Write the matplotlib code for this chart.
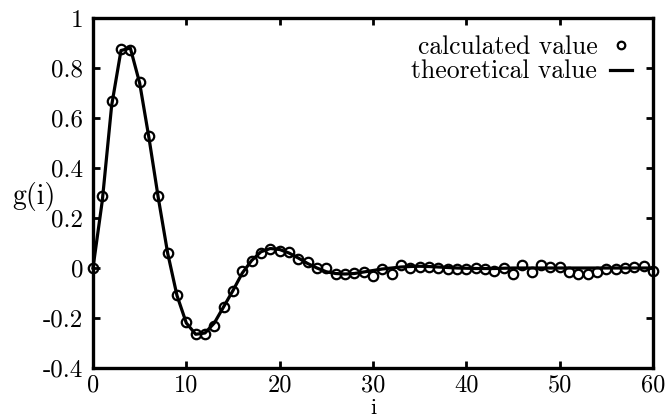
import matplotlib
matplotlib.use("Agg")
import matplotlib.pyplot as plt
import numpy as np

plt.rcParams['font.family'] = ['cmr10', 'DejaVu Serif']
plt.rcParams['axes.unicode_minus'] = False
plt.rcParams['axes.formatter.use_mathtext'] = False

i_vals = list(range(0, 61))
calculated = [0.0, 0.29, 0.67, 0.875, 0.872, 0.745, 0.527, 0.289, 0.062, -0.106,
              -0.216, -0.263, -0.263, -0.23, -0.157, -0.093, -0.011, 0.029, 0.06, 0.078,
              0.07, 0.064, 0.036, 0.023, 0.0, 0.0, -0.024, -0.024, -0.02, -0.017,
              -0.03, -0.004, -0.024, 0.012, 0.0, 0.003, 0.003, 0.0, -0.004, -0.004,
              -0.004, 0.0, -0.005, -0.01, 0.0, -0.024, 0.012, -0.014, 0.012, 0.003,
              0.003, -0.014, -0.024, -0.024, -0.014, -0.004, -0.004, 0.0, 0.003, 0.007,
              -0.01]
theoretical = [0.0, 0.27, 0.65, 0.87, 0.88, 0.74, 0.52, 0.28, 0.06, -0.11,
               -0.22, -0.265, -0.26, -0.22, -0.155, -0.09, -0.02, 0.03, 0.065, 0.078,
               0.074, 0.06, 0.04, 0.018, 0.0, -0.015, -0.022, -0.024, -0.022, -0.016,
               -0.01, -0.004, 0.0, 0.004, 0.006, 0.007, 0.006, 0.004, 0.002, 0.0,
               -0.001, -0.002, -0.002, -0.002, -0.001, 0.0, 0.0, 0.0, 0.0, 0.0,
               0.0, 0.0, 0.0, 0.0, 0.0, 0.0, 0.0, 0.0, 0.0, 0.0, 0.0]
x_ticks = [0, 10, 20, 30, 40, 50, 60]
x_tick_labels = ['0', '10', '20', '30', '40', '50', '60']
y_ticks = [-0.4, -0.2, 0, 0.2, 0.4, 0.6, 0.8, 1]
y_tick_labels = ['-0.4', '-0.2', '0', '0.2', '0.4', '0.6', '0.8', '1']

fig = plt.figure(figsize=(6.67, 4.18), dpi=100)
ax = fig.add_axes([0.1394, 0.1196, 0.8396, 0.8373])

ax.plot(i_vals, theoretical, color='black', lw=2.3, label='theoretical value',
        clip_on=False, zorder=2)
ax.plot(i_vals, calculated, linestyle='none', marker='o', markersize=6.8,
        markerfacecolor='none', markeredgecolor='black', markeredgewidth=1.6,
        label='calculated value', clip_on=False, zorder=3)

ax.set_xlim(0, 60)
ax.set_ylim(-0.4, 1)
ax.set_xticks(x_ticks)
ax.set_xticklabels(x_tick_labels)
ax.set_yticks(y_ticks)
ax.set_yticklabels(y_tick_labels)
ax.tick_params(direction='in', length=5, width=2.0, top=True, right=True,
               labelsize=18)
ax.tick_params(axis='y', pad=7)
ax.tick_params(axis='x', pad=4.5, labelsize=17.5)
for s in ax.spines.values():
    s.set_linewidth(2.4)

ax.set_xlabel('i', fontsize=16, va='top', ha='center')
ax.xaxis.set_label_coords(0.5, -0.086)
ax.set_ylabel('g(i)', fontsize=20, rotation=0, va='center', ha='center')
ax.yaxis.set_label_coords(-0.106, 0.49)

handles, labels = ax.get_legend_handles_labels()
leg = ax.legend([handles[1], handles[0]], [labels[1], labels[0]],
                loc='upper right', bbox_to_anchor=(0.9625, 0.95),
                frameon=False, markerfirst=False, markerscale=0.8,
                fontsize=18.5, handlelength=0.85, handletextpad=0.5,
                labelspacing=0.02, borderaxespad=0.0, borderpad=0.0,
                numpoints=1)

fig.savefig('out.png', dpi=100)
